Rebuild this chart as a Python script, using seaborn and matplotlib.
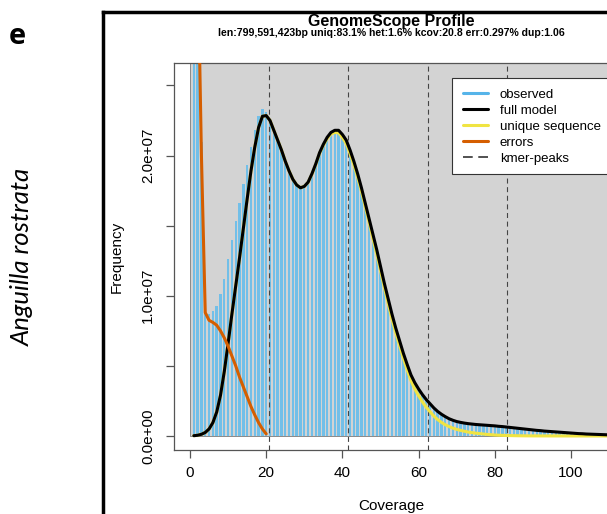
import numpy as np
import pandas as pd
import matplotlib
matplotlib.use("Agg")
import matplotlib.pyplot as plt
from matplotlib.lines import Line2D
from matplotlib.patches import Rectangle
import seaborn as sns

# ---------------- data (frequencies in units of 1e6) ----------------
coverage = list(range(1, 111))

observed_m = [160, 35, 21, 9.2, 8.7, 8.9, 9.3, 10.1, 11.2, 12.6,
              14.0, 15.3, 16.6, 18.0, 19.3, 20.6, 21.8, 22.8, 23.35, 23.1,
              22.6, 21.9, 21.1, 20.3, 19.5, 18.8, 18.25, 17.85, 17.7, 17.8,
              18.15, 18.7, 19.4, 20.15, 20.8, 21.3, 21.6, 21.8, 21.75, 21.5,
              21.05, 20.4, 19.6, 18.7, 17.7, 16.6, 15.5, 14.35, 13.25, 12.1,
              10.9, 9.8, 8.7, 7.7, 6.75, 5.9, 5.1, 4.35, 3.75, 3.3,
              2.9, 2.55, 2.25, 1.98, 1.74, 1.54, 1.37, 1.23, 1.12, 1.04,
              0.97, 0.92, 0.88, 0.85, 0.82, 0.80, 0.78, 0.76, 0.74, 0.72,
              0.70, 0.67, 0.64, 0.61, 0.58, 0.55, 0.52, 0.49, 0.46, 0.43,
              0.41, 0.38, 0.36, 0.33, 0.31, 0.29, 0.27, 0.25, 0.23, 0.21,
              0.19, 0.18, 0.16, 0.15, 0.14, 0.13, 0.12, 0.11, 0.10, 0.09]

full_model_m = [0.02, 0.05, 0.12, 0.25, 0.5, 0.95, 1.7, 2.9, 4.6, 6.6,
                8.7, 10.7, 12.7, 14.8, 16.9, 18.9, 20.6, 22.0, 22.8, 22.85,
                22.5, 21.8, 21.1, 20.4, 19.6, 18.9, 18.3, 17.9, 17.7, 17.8,
                18.1, 18.7, 19.4, 20.2, 20.8, 21.3, 21.65, 21.8, 21.8, 21.5,
                21.1, 20.4, 19.6, 18.7, 17.7, 16.6, 15.5, 14.4, 13.3, 12.1,
                10.9, 9.8, 8.7, 7.7, 6.8, 5.9, 5.1, 4.35, 3.8, 3.35,
                2.95, 2.6, 2.3, 2.0, 1.75, 1.55, 1.38, 1.23, 1.12, 1.03,
                0.97, 0.92, 0.88, 0.85, 0.82, 0.80, 0.78, 0.76, 0.74, 0.72,
                0.69, 0.67, 0.64, 0.61, 0.58, 0.55, 0.52, 0.49, 0.46, 0.43,
                0.40, 0.38, 0.35, 0.33, 0.31, 0.29, 0.27, 0.25, 0.23, 0.21,
                0.19, 0.17, 0.16, 0.14, 0.13, 0.12, 0.11, 0.10, 0.09, 0.08]

unique_m = [0.02, 0.05, 0.12, 0.25, 0.5, 0.95, 1.7, 2.9, 4.6, 6.6,
            8.7, 10.7, 12.7, 14.8, 16.9, 18.9, 20.6, 22.0, 22.8, 22.85,
            22.5, 21.8, 21.1, 20.4, 19.6, 18.9, 18.3, 17.9, 17.7, 17.8,
            18.08, 18.67, 19.36, 20.15, 20.73, 21.21, 21.53, 21.65, 21.62, 21.3,
            20.85, 20.15, 19.35, 18.45, 17.45, 16.35, 15.25, 14.1, 13.0, 11.8,
            10.6, 9.45, 8.35, 7.35, 6.45, 5.55, 4.72, 3.95, 3.35, 2.87,
            2.43, 2.05, 1.73, 1.42, 1.17, 0.97, 0.80, 0.67, 0.56, 0.47,
            0.40, 0.34, 0.28, 0.24, 0.20, 0.17, 0.14, 0.11, 0.09, 0.07,
            0.055, 0.045, 0.035, 0.028, 0.022, 0.017, 0.013, 0.010, 0.008, 0.006,
            0.005, 0.004, 0.004, 0.003, 0.003, 0.002, 0.002, 0.002, 0.001, 0.001,
            0.001, 0.001, 0.001, 0.0, 0.0, 0.0, 0.0, 0.0, 0.0, 0.0]

error_cov = list(range(1, 21))
errors_m = [150, 35, 20, 8.8, 8.25, 8.1, 7.9, 7.5, 7.0, 6.4,
            5.7, 5.0, 4.2, 3.5, 2.8, 2.1, 1.5, 0.95, 0.5, 0.15]

kmer_peaks = [20.8, 41.6, 62.4, 83.2]

x_ticks = [0, 20, 40, 60, 80, 100]
y_ticks = [0, 5e6, 1e7, 1.5e7, 2e7, 2.5e7]
y_tick_labels = ["0.0e+00", "", "1.0e+07", "", "2.0e+07", ""]

title = "GenomeScope Profile"
subtitle = "len:799,591,423bp uniq:83.1% het:1.6% kcov:20.8 err:0.297% dup:1.06"
legend_labels = ["observed", "full model", "unique sequence", "errors", "kmer-peaks"]

C_HIST = "#56B4E9"
C_BAR = "#72BFE8"
C_ERR = "#D55E00"
C_UNIQ = "#F0E442"
C_BG = "#D3D3D3"

# ---------------- dataframe ----------------
df = pd.DataFrame({
    "coverage": coverage,
    "observed": np.array(observed_m) * 1e6,
    "full": np.array(full_model_m) * 1e6,
    "unique": np.array(unique_m) * 1e6,
})
df_err = pd.DataFrame({"coverage": error_cov, "errors": np.array(errors_m) * 1e6})

# ---------------- figure ----------------
sns.set_theme(style="ticks")
plt.rcParams["font.family"] = ["Liberation Sans", "DejaVu Sans"]
plt.rcParams["lines.scale_dashes"] = False
plt.rcParams["text.color"] = "black"

W, H = 607, 514
fig = plt.figure(figsize=(W / 100, H / 100), dpi=100)
fig.patch.set_facecolor("white")

ax_l, ax_r, ax_t, ax_b = 174, 610, 63, 450
ax = fig.add_axes([ax_l / W, 1 - ax_b / H, (ax_r - ax_l) / W, (ax_b - ax_t) / H])
ax.set_facecolor("white")

ppu = 3.81  # pixels per coverage unit
x0 = -(190 - ax_l) / ppu
xlim = (x0, x0 + (ax_r - ax_l) / ppu)
ylim = (-1.0e6, 2.66e7)

ax.add_patch(Rectangle((0, 0), 1000, 1e9, facecolor=C_BG, edgecolor="#8a8a8a",
                       linewidth=0.7, zorder=0.5))

sns.histplot(data=df, x="coverage", weights="observed", discrete=True, shrink=0.62,
             color=C_BAR, alpha=1, linewidth=0, ax=ax, zorder=1)

for p in kmer_peaks:
    ax.axvline(p, color="#444444", linewidth=0.8, linestyle=(0, (3.6, 2.6)), zorder=2)

sns.lineplot(data=df, x="coverage", y="unique", color=C_UNIQ, linewidth=2.2, ax=ax, zorder=3)
sns.lineplot(data=df, x="coverage", y="full", color="black", linewidth=2.2, ax=ax, zorder=4)
sns.lineplot(data=df_err, x="coverage", y="errors", color=C_ERR, linewidth=2.2, ax=ax, zorder=5)

ax.set_xlim(*xlim)
ax.set_ylim(*ylim)

# axes styling
for s in ["left", "bottom", "top", "right"]:
    ax.spines[s].set_color("#555555")
    ax.spines[s].set_linewidth(0.9)
ax.set_xticks(x_ticks)
ax.set_xticklabels([str(t) for t in x_ticks], fontsize=11)
ax.set_yticks(y_ticks)
ax.set_yticklabels(y_tick_labels, fontsize=11, rotation=90, va="center", ha="center")
ax.tick_params(axis="both", direction="out", length=6, width=0.9, color="#555555",
               labelcolor="black")
ax.tick_params(axis="y", pad=12.7)
ax.tick_params(axis="x", pad=10.6)
plt.setp(ax.get_xticklabels(), va="center")

ax.set_xlabel("Coverage", fontsize=11, color="black")
ax.set_ylabel("Frequency", fontsize=11, color="black")
ax.xaxis.set_label_coords((391 - ax_l) / (ax_r - ax_l), -(506 - ax_b) / (ax_b - ax_t))
ax.xaxis.label.set_va("center")
ax.yaxis.set_label_coords(-(ax_l - 117) / (ax_r - ax_l), 0.5)
ax.yaxis.label.set_va("center")

# legend
handles = [
    Line2D([], [], color=C_HIST, linewidth=2.2),
    Line2D([], [], color="black", linewidth=2.2),
    Line2D([], [], color=C_UNIQ, linewidth=2.2),
    Line2D([], [], color=C_ERR, linewidth=2.2),
    Line2D([], [], color="#333333", linewidth=1.2, linestyle=(0, (7, 4))),
]
leg = fig.legend(handles, legend_labels, loc="upper left",
                 bbox_to_anchor=(463 / W, 1 - 88.5 / H), bbox_transform=fig.transFigure,
                 frameon=False, fontsize=9.5, borderpad=0, borderaxespad=0,
                 handlelength=1.9, handletextpad=0.9, labelspacing=0.29)
for t in leg.get_texts():
    t.set_color("black")
leg.set_zorder(11)
fig.add_artist(Rectangle((451.7 / W, 1 - 174 / H), (620 - 451.7) / W, (174 - 78.3) / H,
                         transform=fig.transFigure, facecolor="white",
                         edgecolor="#333333", linewidth=0.8, zorder=10))

# titles
fig.text(391 / W, 1 - 21.7 / H, title, ha="center", va="center",
         fontsize=11.5, fontweight="bold", color="black")
fig.text(391 / W, 1 - 33.3 / H, subtitle, ha="center", va="center",
         fontsize=7.6, fontweight="bold", color="black")

# outer panel frame
fy = 1 - 11.7 / H
fx = 103.3 / W
fig.add_artist(Line2D([fx, fx], [-0.02, fy], transform=fig.transFigure,
                      color="black", linewidth=2.5, solid_capstyle="projecting"))
fig.add_artist(Line2D([fx, 1.05], [fy, fy], transform=fig.transFigure,
                      color="black", linewidth=2.5, solid_capstyle="projecting"))

# panel letter and species name
fig.text(17 / W, 1 - 44.5 / H, "e", ha="center", va="baseline", color="black",
         fontsize=21, fontweight="bold", family=["Open Sans", "DejaVu Sans"])
fig.text(22 / W, 1 - 257 / H, "Anguilla rostrata", ha="center", va="center", color="black",
         rotation=90, fontsize=18.5, style="italic", family=["Lato", "DejaVu Sans"])

fig.savefig("out.png", dpi=100)
